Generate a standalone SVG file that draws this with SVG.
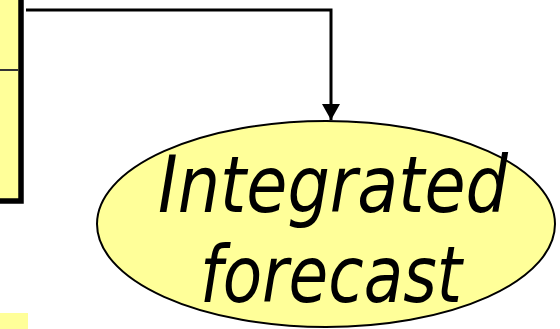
<svg xmlns="http://www.w3.org/2000/svg" width="560" height="329" viewBox="0 0 560 329">
<defs>
<style>
.fill{fill:#FFFF99}
.lbl{font-family:"DejaVu Sans","Verdana",sans-serif;font-style:italic;font-size:78px;fill:#000}
</style>
<marker id="ah" markerWidth="17" markerHeight="18" refX="16" refY="9" orient="auto" markerUnits="userSpaceOnUse">
<path d="M0,0 L16,9 L0,18 Z" fill="#000"/>
</marker>
</defs>
<rect width="560" height="329" fill="#fff"/>
<g id="box-left">
<rect class="fill" x="-5" y="-5" width="26" height="206" stroke="#000" stroke-width="5.5"/>
<line x1="0" y1="70" x2="18" y2="70" stroke="#333" stroke-width="2"/>
</g>
<g id="box-bottom">
<rect class="fill" x="0" y="313" width="28" height="16"/>
</g>
<g id="connectors">
<polyline points="26,10 331,10 331,120" fill="none" stroke="#000" stroke-width="3" marker-end="url(#ah)"/>
</g>
<g id="integrated-forecast">
<ellipse class="fill" cx="326" cy="224" rx="229" ry="103" stroke="#000" stroke-width="2"/>
<text class="lbl" x="333" y="212" text-anchor="middle" textLength="350" lengthAdjust="spacingAndGlyphs">Integrated</text>
<text class="lbl" x="331" y="302" text-anchor="middle" textLength="262" lengthAdjust="spacingAndGlyphs">forecast</text>
</g>
</svg>
